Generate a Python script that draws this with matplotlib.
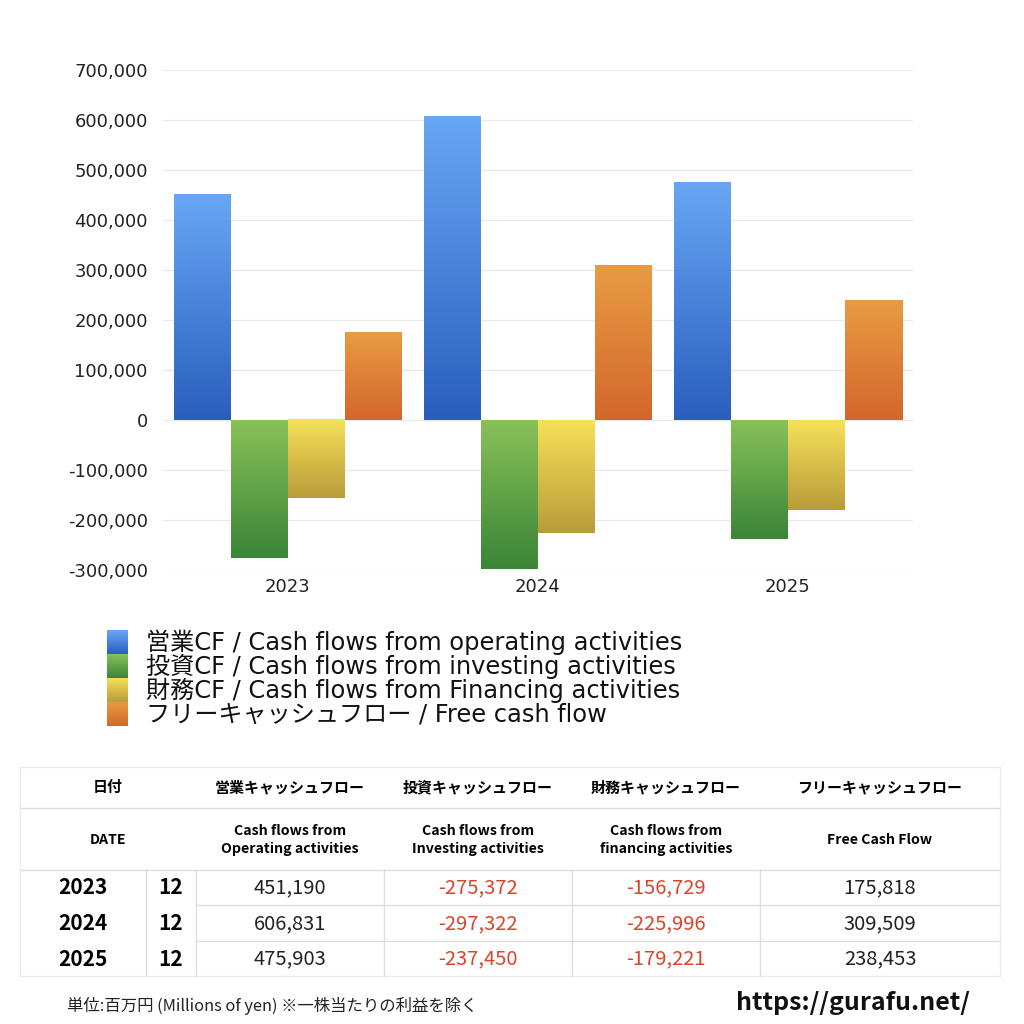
import numpy as np
import matplotlib
matplotlib.use('Agg')
import matplotlib.pyplot as plt
from matplotlib.colors import LinearSegmentedColormap
from matplotlib.lines import Line2D
from matplotlib.ticker import FuncFormatter

LATIN = ['DejaVu Sans', 'Noto Sans CJK JP']
CJK = ['Noto Sans CJK JP', 'DejaVu Sans']
plt.rcParams['font.family'] = LATIN

# data (millions of yen)
years = ['2023', '2024', '2025']
months = ['12', '12', '12']
operating = [451190, 606831, 475903]
investing = [-275372, -297322, -237450]
financing = [-156729, -225996, -179221]
free_cf = [175818, 309509, 238453]

series_labels = ['営業CF / Cash flows from operating activities',
                 '投資CF / Cash flows from investing activities',
                 '財務CF / Cash flows from Financing activities',
                 'フリーキャッシュフロー / Free cash flow']
# (dark bottom, light top) for each series
grad_colors = [('#2A5EBE', '#68A7F4'),
               ('#3A8537', '#88C158'),
               ('#B89C3A', '#F6E158'),
               ('#D3662C', '#E89C42')]

head_jp = ['営業キャッシュフロー', '投資キャッシュフロー', '財務キャッシュフロー', 'フリーキャッシュフロー']
head_en = ['Cash flows from\nOperating activities', 'Cash flows from\nInvesting activities',
           'Cash flows from\nfinancing activities', 'Free Cash Flow']

W = 1024.0
def fx(px):
    return px / W
def fy(py):
    return 1 - py / W

fig = plt.figure(figsize=(10.24, 10.24), dpi=100)
ax = fig.add_axes([fx(163), fy(570), 750 / W, 500 / W])

grad = np.linspace(0, 1, 256).reshape(-1, 1)
cmaps = [LinearSegmentedColormap.from_list('c%d' % i, c) for i, c in enumerate(grad_colors)]

x = np.arange(len(years))
width = 0.228
all_series = [operating, investing, financing, free_cf]
for i, vals in enumerate(all_series):
    bars = ax.bar(x + (i - 1.5) * width, vals, width, color='none', edgecolor='none', zorder=2)
    for r in bars:
        x0, y0 = r.get_xy()
        w, h = r.get_width(), r.get_height()
        ax.imshow(grad, extent=[x0, x0 + w, min(y0, y0 + h), max(y0, y0 + h)],
                  origin='lower', aspect='auto', cmap=cmaps[i], zorder=2)

ax.set_xlim(-0.5, 2.5)
ax.set_ylim(-300000, 700000)
ax.set_aspect('auto')
ax.set_yticks(np.arange(-300000, 700001, 100000))
ax.yaxis.set_major_formatter(FuncFormatter(lambda v, p: '{:,.0f}'.format(v)))
ax.set_xticks(x)
ax.set_xticklabels(years)
ax.grid(axis='y', color='#E8E8E8', lw=0.9, zorder=0)
ax.set_axisbelow(True)
for s in ax.spines.values():
    s.set_visible(False)
ax.tick_params(axis='y', length=0, pad=11, labelsize=13, labelcolor='#222222')
ax.tick_params(axis='x', length=0, pad=6, labelsize=13, labelcolor='#222222')

# legend
for i, lab in enumerate(series_labels):
    cy = 642 + 24 * i
    lax = fig.add_axes([fx(107), fy(cy + 12), 21 / W, 24 / W])
    lax.imshow(grad, origin='lower', aspect='auto', cmap=cmaps[i])
    lax.axis('off')
    fig.text(fx(146), fy(cy), lab, fontsize=17.4, va='center', ha='left', color='#111111')

# table
line_c = '#DDDDDD'
def hline(y, x0, x1, c=line_c):
    fig.add_artist(Line2D([fx(x0), fx(x1)], [fy(y), fy(y)], color=c, lw=1))
def vline(xp, y0, y1, c=line_c):
    fig.add_artist(Line2D([fx(xp), fx(xp)], [fy(y0), fy(y1)], color=c, lw=1))

hline(767, 20, 1000, '#EBEBEB')
hline(808, 20, 1000)
hline(870, 20, 1000)
hline(905, 196, 1000)
hline(941, 196, 1000)
hline(976, 20, 1000, '#EBEBEB')
vline(20, 767, 976, '#EBEBEB')
vline(1000, 767, 976, '#EBEBEB')
for xp in [146, 196, 384, 572, 760]:
    vline(xp, 870, 976)

col_cx = [290, 478, 666, 880]
fig.text(fx(108), fy(787), '日付', fontsize=10.8, weight='bold', ha='center', va='center', family=CJK)
fig.text(fx(108), fy(840), 'DATE', fontsize=10.2, weight='bold', ha='center', va='center', family=CJK)
for cx, hj, he in zip(col_cx, head_jp, head_en):
    fig.text(fx(cx), fy(787), hj, fontsize=10.8, weight='bold', ha='center', va='center', family=CJK)
    fig.text(fx(cx), fy(840), he, fontsize=10.2, weight='bold', ha='center', va='center',
             linespacing=1.35, family=CJK)

row_cy = [888, 924, 959]
for r, cy in enumerate(row_cy):
    fig.text(fx(83), fy(cy), years[r], fontsize=15, weight='bold', ha='center', va='center', family=CJK)
    fig.text(fx(171), fy(cy), months[r], fontsize=15, weight='bold', ha='center', va='center', family=CJK)
    for cx, vals in zip(col_cx, all_series):
        v = vals[r]
        fig.text(fx(cx), fy(cy), '{:,}'.format(v), fontsize=14.5, ha='center', va='center',
                 color='#D9452C' if v < 0 else '#222222', family=CJK)

fig.text(fx(67), fy(1006), '単位:百万円 (Millions of yen) ※一株当たりの利益を除く',
         fontsize=11.8, ha='left', va='center', color='#222222', family=CJK)
fig.text(fx(970), fy(1003), 'https://gurafu.net/', fontsize=18, weight='bold',
         ha='right', va='center', color='#111111', family=CJK)

fig.savefig('out.png', dpi=100, facecolor='white')
